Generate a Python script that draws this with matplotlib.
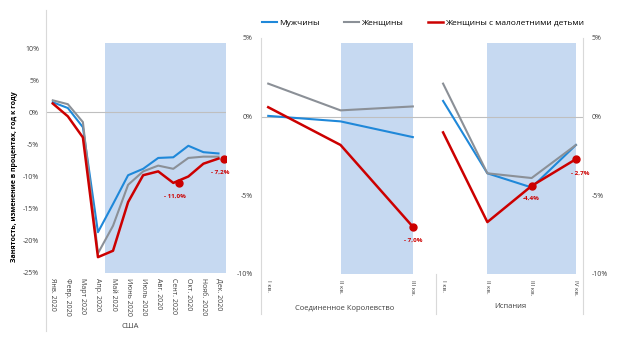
import matplotlib
matplotlib.use('Agg')
import matplotlib.pyplot as plt
from matplotlib.lines import Line2D

plt.rcParams['font.family'] = ['Open Sans', 'DejaVu Sans']

# ---- data ----
months = ['Янв. 2020', 'Февр. 2020', 'Март 2020', 'Апр. 2020', 'Май 2020', 'Июнь 2020',
          'Июль 2020', 'Авг. 2020', 'Сент. 2020', 'Окт. 2020', 'Нояб. 2020', 'Дек. 2020']
us_men = [1.6, 0.7, -2.3, -18.7, -14.3, -9.8, -8.8, -7.1, -7.0, -5.2, -6.2, -6.4]
us_women = [1.9, 1.3, -1.5, -22.0, -17.7, -11.3, -9.2, -8.3, -8.8, -7.1, -6.9, -6.9]
us_moms = [1.4, -0.6, -3.9, -22.6, -21.6, -14.0, -9.8, -9.2, -11.0, -10.0, -8.0, -7.2]

quarters_uk = ['I кв.', 'II кв.', 'III кв.']
uk_men = [0.05, -0.3, -1.3]
uk_women = [2.1, 0.4, 0.65]
uk_moms = [0.6, -1.8, -7.0]

quarters_es = ['I кв.', 'II кв.', 'III кв.', 'IV кв.']
es_men = [1.0, -3.6, -4.5, -1.8]
es_women = [2.1, -3.6, -3.9, -1.8]
es_moms = [-1.0, -6.7, -4.4, -2.7]

# highlighted points: (index, value, label)
us_marks = [(8, -11.0, '- 11,0%'), (11, -7.2, '- 7,2%')]
uk_marks = [(2, -7.0, '- 7,0%')]
es_marks = [(2, -4.4, '-4,4%'), (3, -2.7, '- 2,7%')]

BLUE = '#1f88d9'
GRAY = '#8b9097'
RED = '#cc0000'
SHADE = '#c6d9f1'
AXC = '#d9d9d9'

W, H = 623, 356
fig = plt.figure(figsize=(W / 100, H / 100), dpi=100)


def box(x0, y_top, x1, y_bot):
    return [x0 / W, 1 - y_bot / H, (x1 - x0) / W, (y_bot - y_top) / H]


def style(ax):
    for s in ax.spines.values():
        s.set_visible(False)
    ax.tick_params(length=0, labelsize=5, colors='#404040')


def draw_lines(ax, x, men, women, moms):
    ax.plot(x, men, color=BLUE, lw=1.5, zorder=3)
    ax.plot(x, women, color=GRAY, lw=1.5, zorder=3)
    ax.plot(x, moms, color=RED, lw=1.8, zorder=4)


# ---- USA ----
ax1 = fig.add_axes(box(46, 38, 226, 272.5))
style(ax1)
x1 = list(range(len(months)))
ax1.axvspan(3.5, 11.5, ymax=(10.8 + 25) / 36.64, color=SHADE, lw=0, zorder=1)
ax1.axhline(0, color='#bfbfbf', lw=0.8, zorder=2)
draw_lines(ax1, x1, us_men, us_women, us_moms)
for i, v, t in us_marks:
    ax1.plot(i + 0.4, v, 'o', color=RED, ms=5, zorder=5)
    ax1.annotate(t, (i + 0.4, v), xytext=(-3, -10), textcoords='offset points',
                 ha='center', va='center', fontsize=4.5, color=RED, fontweight='bold')
ax1.set_xlim(-0.45, 11.5)
ax1.set_ylim(-25, 11.64)
ax1.set_yticks(range(-25, 11, 5))
ax1.set_yticklabels([f'{v}%' for v in range(-25, 11, 5)])
ax1.set_xticks(x1)
ax1.set_xticklabels(months, rotation=270, va='top', ha='center')
ax1.tick_params(axis='y', pad=5)
ax1.tick_params(axis='x', pad=4)
ax1.plot([0, 0], [1.12, -0.25], transform=ax1.transAxes, color=AXC, lw=0.8, clip_on=False)
ax1.set_ylabel('Занятость, изменение в процентах, год к году', fontsize=5,
               fontweight='bold')
ax1.yaxis.set_label_coords(-0.156, 0.41)

# ---- UK ----
ax2 = fig.add_axes(box(261, 38, 436, 274))
style(ax2)
x2 = list(range(len(quarters_uk)))
ax2.axvspan(1, 2, ymax=(4.7 + 10) / 15, color=SHADE, lw=0, zorder=1)
ax2.axhline(0, color='#bfbfbf', lw=0.8, zorder=2)
draw_lines(ax2, x2, uk_men, uk_women, uk_moms)
for i, v, t in uk_marks:
    ax2.plot(i, v, 'o', color=RED, ms=5, zorder=5)
    ax2.annotate(t, (i, v), xytext=(0, -10), textcoords='offset points',
                 ha='center', va='center', fontsize=4.5, color=RED, fontweight='bold')
ax2.set_xlim(-0.1, 2.32)
ax2.set_ylim(-10, 5)
ax2.set_yticks([-10, -5, 0, 5])
ax2.set_yticklabels(['-10%', '-5%', '0%', '5%'])
ax2.set_xticks(x2)
ax2.set_xticklabels(quarters_uk, rotation=270, va='top', ha='center', fontsize=4.5)
ax2.tick_params(axis='y', pad=6)
ax2.tick_params(axis='x', pad=4)
ax2.plot([0, 0], [1, -0.17], transform=ax2.transAxes, color=AXC, lw=0.8, clip_on=False)

# ---- Spain ----
ax3 = fig.add_axes(box(436, 38, 583, 274))
style(ax3)
x3 = list(range(len(quarters_es)))
ax3.axvspan(1, 3, ymax=(4.7 + 10) / 15, color=SHADE, lw=0, zorder=1)
ax3.axhline(0, color='#bfbfbf', lw=0.8, zorder=2)
draw_lines(ax3, x3, es_men, es_women, es_moms)
for i, v, t in es_marks:
    ax3.plot(i, v, 'o', color=RED, ms=5, zorder=5)
offs = [(0, -9), (3, -10)]
for (i, v, t), o in zip(es_marks, offs):
    ax3.annotate(t, (i, v), xytext=o, textcoords='offset points',
                 ha='center', va='center', fontsize=4.5, color=RED, fontweight='bold')
ax3.set_xlim(-0.16, 3.16)
ax3.set_ylim(-10, 5)
ax3.yaxis.tick_right()
ax3.set_yticks([-10, -5, 0, 5])
ax3.set_yticklabels(['-10%', '-5%', '0%', '5%'])
ax3.set_xticks(x3)
ax3.set_xticklabels(quarters_es, rotation=270, va='top', ha='center', fontsize=4.5)
ax3.tick_params(axis='y', pad=6)
ax3.tick_params(axis='x', pad=4)
ax3.plot([1, 1], [1, -0.17], transform=ax3.transAxes, color=AXC, lw=0.8, clip_on=False)
ax3.plot([0, 0], [0, -0.17], transform=ax3.transAxes, color=AXC, lw=0.8, clip_on=False)

# ---- axis titles ----
fig.text(130 / W, 1 - 327 / H, 'США', fontsize=5.5, ha='center', va='center', color='#404040')
fig.text(345 / W, 1 - 308 / H, 'Соединенное Королевство', fontsize=5.5, ha='center', va='center', color='#404040')
fig.text(510 / W, 1 - 307 / H, 'Испания', fontsize=5.5, ha='center', va='center', color='#404040')

# ---- legend ----
handles = [Line2D([], [], color=BLUE, lw=1.5),
           Line2D([], [], color=GRAY, lw=1.5),
           Line2D([], [], color=RED, lw=1.8)]
fig.legend(handles, ['Мужчины', 'Женщины', 'Женщины с малолетними детьми'],
           loc='center', bbox_to_anchor=(423 / W, 1 - 23 / H), ncol=3, frameon=False,
           fontsize=6, handlelength=1.8, handletextpad=0.2, columnspacing=3.0)

fig.savefig('out.png', dpi=100)
